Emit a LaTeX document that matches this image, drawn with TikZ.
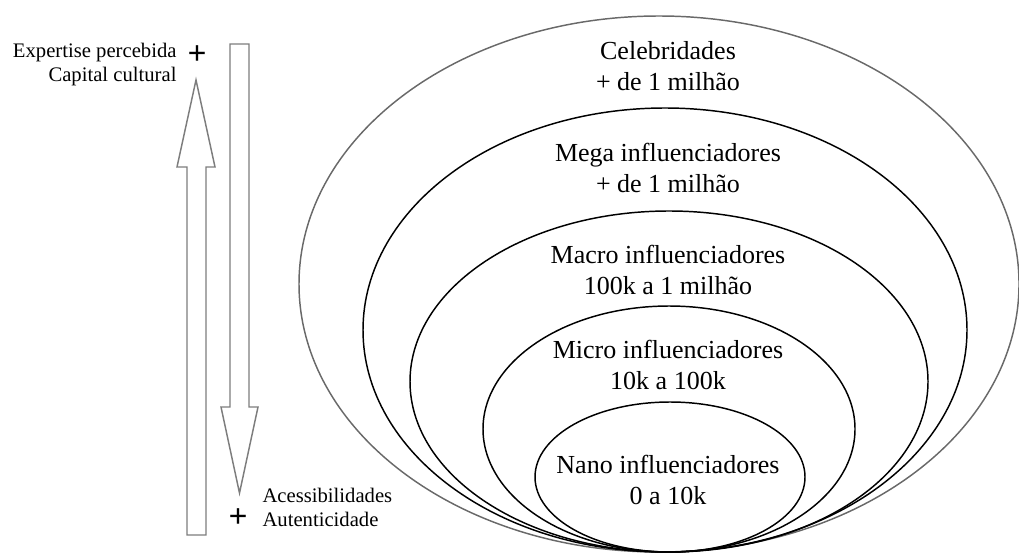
\documentclass[tikz,border=0pt]{standalone}
\usepackage{fontspec}
\setmainfont{Liberation Serif}

\definecolor{rimgray}{RGB}{105,105,105}
\definecolor{arrowgray}{RGB}{125,125,125}

\tikzset{every picture/.style={line width=0.75pt}}
\tikzset{
  ring/.style={draw=black, line width=1.1},
  blockarrow/.style={draw=arrowgray, line width=1.1, line join=miter},
  level/.style={font=\fontsize{19.5}{23.5}\selectfont, align=center, inner sep=0},
  side/.style={font=\fontsize{15.5}{18}\selectfont, inner sep=0},
  plus/.style={font=\fontsize{25}{25}\selectfont\bfseries, inner sep=0}
}

\begin{document}
\begin{tikzpicture}[x=0.75pt,y=0.75pt,yscale=-1,xscale=1]
	\useasboundingbox (0,0) rectangle (1019,553);

	%Shape: Ellipse (outer, celebridades)
	\draw [draw=rimgray, line width=1.1] (659,284) ellipse [x radius=360, y radius=268];
	%Shape: Ellipse (mega)
	\draw [ring] (665,330) ellipse [x radius=302, y radius=222];
	%Shape: Ellipse (macro)
	\draw [ring] (669,381.5) ellipse [x radius=259, y radius=170.5];
	%Shape: Ellipse (micro)
	\draw [ring] (669,429) ellipse [x radius=186, y radius=123];
	%Shape: Ellipse (nano)
	\draw [ring] (670,477) ellipse [x radius=135, y radius=75];

	%Shape: Up Arrow
	\draw [blockarrow] (187,535) -- (187,167) -- (177,167) -- (196,80) -- (215,167) -- (206,167) -- (206,535) -- cycle ;
	%Shape: Down Arrow
	\draw [blockarrow] (230,44) -- (249,44) -- (249,407) -- (258,407) -- (239.5,493) -- (221,407) -- (230,407) -- cycle ;

	% Text Node
	\node [level] (celeb) at (668,66) {Celebridades\\+ de 1 milhão};
	% Text Node
	\node [level] (mega) at (668,168) {Mega influenciadores\\+ de 1 milhão};
	% Text Node
	\node [level] (macro) at (668,270) {Macro influenciadores\\100k a 1 milhão};
	% Text Node
	\node [level] (micro) at (668,365) {Micro influenciadores\\10k a 100k};
	% Text Node
	\node [level] (nano) at (668,480) {Nano influenciadores\\0 a 10k};

	% Text Node
	\node [side, align=right, anchor=east] (expert) at (177,65) {Expertise percebida\\Capital cultural};
	% Text Node
	\node [plus] (plustop) at (197,55) {+};
	% Text Node
	\node [side, align=left, anchor=west] (acess) at (262,507) {Acessibilidades\\Autenticidade};
	% Text Node
	\node [plus] (plusbottom) at (238,518) {+};

\end{tikzpicture}
\end{document}
